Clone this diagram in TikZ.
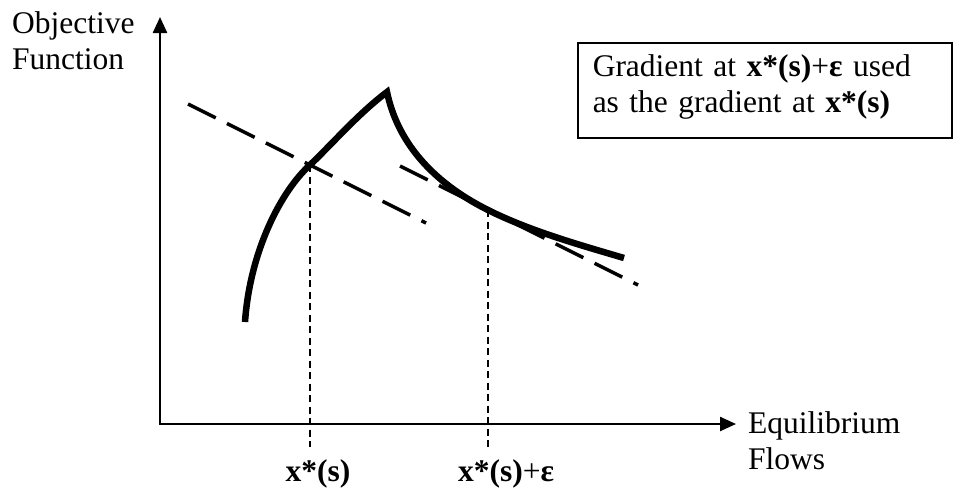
\documentclass[tikz,border=0pt]{standalone}
\usepackage{fontspec}
\setmainfont{Liberation Serif}
\usetikzlibrary{arrows.meta, calc}

\begin{document}
\begin{tikzpicture}[x=1pt, y=-1pt, every node/.style={font=\fontsize{31.5}{35.5}\selectfont, inner sep=0pt},
    axis/.style={line width=2.4pt, {Triangle[length=16pt, width=14pt]}-{Triangle[length=16pt, width=14pt]}},
    curve/.style={line width=6.5pt},
    slope/.style={line width=3.4pt, dash pattern=on 31pt off 12.5pt},
    guide/.style={line width=1.5pt, dash pattern=on 7pt off 4.5pt}]
    \useasboundingbox (0,0) rectangle (953,490);
    % axes
    \coordinate (origin) at (160,424);
    \coordinate (ytip) at (160,17);
    \coordinate (xtip) at (736,424);
    \coordinate (floor) at (0,447);
    \draw[axis] (ytip) -- (origin) -- (xtip);
    \node[anchor=north west, align=left] (ylabel) at (12,11.5) {Objective\\Function};
    \node[anchor=north west, align=left] (xlabel) at (748,411.5) {Equilibrium\\Flows};
    % objective curve
    \coordinate (xs) at (310,165);
    \coordinate (xse) at (488,210);
    \coordinate (peak) at (387,92);
    \draw[curve] (245,322) .. controls (250,250) and (282,190) .. (xs)
        .. controls (334,142) and (358,114) .. (peak)
        .. controls (397,140) and (430,181) .. (xse)
        .. controls (530,231) and (580,245) .. (624,258);
    % gradients
    \draw[slope] ($(xs)+(-122,-61)$) -- ($(xs)+(116,58)$);
    \draw[slope] ($(xse)+(-88,-44)$) -- ($(xse)+(150,75)$);
    \draw[guide] (xs) -- (xs |- floor);
    \draw[guide] (xse) -- (xse |- floor);
    \node[anchor=base] (xslabel) at (318,481) {\textbf{x*(s)}};
    \node[anchor=base west] (xselabel) at (458,481) {\textbf{x*(s)}+\textbf{ε}};
    % note
    \node[draw, line width=1.5pt, anchor=north west, minimum width=374pt, inner ysep=12pt, text height=22pt, text depth=49pt, align=left, inner xsep=15pt, text width=344pt] (note) at (577,42) {Gradient at \textbf{x*(s)}+\textbf{ε} used\\as the gradient at \textbf{x*(s)}};
\end{tikzpicture}
\end{document}
